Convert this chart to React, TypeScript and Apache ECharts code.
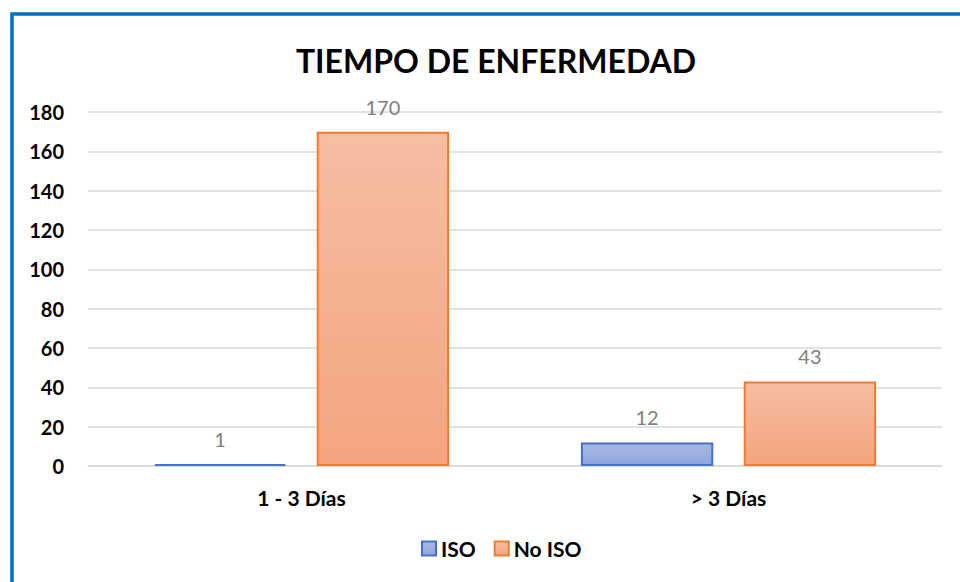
import React, { useEffect, useRef } from "react";
import * as echarts from "echarts";

const categories = ["1 - 3 Días", "> 3 Días"];
const isoValues = [1, 12];
const noIsoValues = [170, 43];
const seriesNames = ["ISO", "No ISO"];
const title = "TIEMPO DE ENFERMEDAD";

const FONT = "Lato, 'Open Sans', sans-serif";

export default function App() {
  const ref = useRef<HTMLDivElement>(null);
  useEffect(() => {
    if (!ref.current) return;
    const chart = echarts.init(ref.current, undefined, { renderer: "svg" });
    const label = {
      show: true,
      position: "top",
      distance: 15,
      color: "#808080",
      fontSize: 20,
      fontFamily: FONT,
    };
    chart.setOption({
      animation: false,
      backgroundColor: "#ffffff",
      title: {
        text: title,
        left: 491,
        textAlign: "center",
        top: 39,
        textStyle: { fontFamily: FONT, fontWeight: "bold", fontSize: 32, color: "#000000" },
      },
      graphic: [
        {
          type: "rect",
          shape: { x: 12, y: 14, width: 1100, height: 1100 },
          style: { fill: "none", stroke: "#0070c0", lineWidth: 3.5 },
          silent: true,
        },
      ],
      legend: {
        bottom: 18,
        left: 416,
        itemWidth: 14,
        itemHeight: 14,
        itemGap: 18,
        textStyle: { fontFamily: FONT, fontWeight: "bold", fontSize: 21, color: "#000" },
        data: seriesNames.map((n) => ({ name: n, icon: "rect" })),
      },
      grid: { left: 88, right: 18, top: 112, bottom: 116, containLabel: false },
      xAxis: {
        type: "category",
        data: categories,
        axisLine: { show: true, lineStyle: { color: "#d9d9d9", width: 1.5 } },
        axisTick: { show: false },
        axisLabel: { fontFamily: FONT, fontWeight: "bold", fontSize: 21, color: "#000", margin: 21 },
      },
      yAxis: {
        type: "value",
        min: 0,
        max: 180,
        interval: 20,
        axisLine: { show: false },
        axisTick: { show: false },
        splitLine: { lineStyle: { color: "#d9d9d9", width: 1.5 } },
        axisLabel: { fontFamily: FONT, fontWeight: "bold", fontSize: 20, color: "#000", margin: 24 },
      },
      series: [
        {
          name: seriesNames[0],
          type: "bar",
          data: isoValues,
          barWidth: "31%",
          barGap: "23%",
          itemStyle: {
            color: new echarts.graphic.LinearGradient(0, 0, 0, 1, [
              { offset: 0, color: "#aab9e3" },
              { offset: 1, color: "#8ea5db" },
            ]),
            borderColor: "#4472c4",
            borderWidth: 2,
          },
          label,
        },
        {
          name: seriesNames[1],
          type: "bar",
          data: noIsoValues,
          barWidth: "31%",
          barGap: "23%",
          itemStyle: {
            color: new echarts.graphic.LinearGradient(0, 0, 0, 1, [
              { offset: 0, color: "#f6bea3" },
              { offset: 1, color: "#f4a47f" },
            ]),
            borderColor: "#ed7d31",
            borderWidth: 2,
          },
          label,
        },
      ],
    });
    return () => chart.dispose();
  }, []);
  return (
    <div
      ref={ref}
      style={{ position: "fixed", left: 0, top: 0, width: 960, height: 582 }}
    />
  );
}
